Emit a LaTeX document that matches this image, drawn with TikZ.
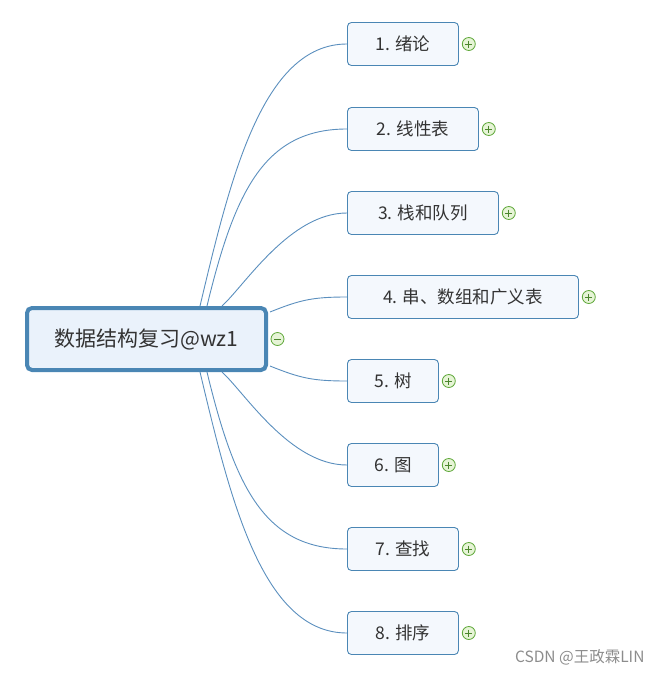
\documentclass[tikz,border=0pt]{standalone}
\usepackage{fontspec}
\newfontfamily\cjk{Noto Sans CJK SC}
\usetikzlibrary{calc}
\definecolor{linec}{HTML}{5B8FBE}
\definecolor{mainb}{HTML}{4A86B4}
\definecolor{mainf}{HTML}{EAF2FB}
\definecolor{subf}{HTML}{F4F8FD}
\definecolor{grn}{HTML}{5FA83A}
\definecolor{grnf}{HTML}{E6F4D6}
\tikzset{
  mainbox/.style={draw=mainb, line width=4pt, fill=mainf, rounded corners=5pt,
    minimum width=239pt, minimum height=62pt, inner sep=0pt,
    font=\cjk\fontsize{21}{24}\selectfont, text=black!80},
  subbox/.style={draw=mainb, line width=0.9pt, fill=subf, rounded corners=4pt,
    minimum height=43pt, inner sep=0pt, anchor=west,
    font=\cjk\fontsize{17.5}{20}\selectfont, text=black!80},
  conn/.style={draw=linec, line width=0.9pt},
  iconc/.style={circle, draw=grn, fill=grnf, line width=0.8pt, minimum size=13pt, inner sep=0pt},
  sign/.style={draw=grn!80!black, line width=1pt}
}
\begin{document}
\begin{tikzpicture}[x=1pt,y=-1pt]
\useasboundingbox (0,0) rectangle (661,675);
% nodes
\node[mainbox] (c) at (146.5,339) {数据结构复习@wz1};
\node[subbox, minimum width=111pt] (n1) at (347,44) {1. 绪论};
\node[subbox, minimum width=131pt] (n2) at (347,129) {2. 线性表};
\node[subbox, minimum width=151pt] (n3) at (347,213) {3. 栈和队列};
\node[subbox, minimum width=231pt] (n4) at (347,297) {4. 串、数组和广义表};
\node[subbox, minimum width=91pt] (n5) at (347,381) {5. 树};
\node[subbox, minimum width=91pt] (n6) at (347,465) {6. 图};
\node[subbox, minimum width=111pt] (n7) at (347,549) {7. 查找};
\node[subbox, minimum width=111pt] (n8) at (347,633) {8. 排序};
% start points
\coordinate (s1) at (200,306);
\coordinate (s2) at (207,306);
\coordinate (s3) at (222,306);
\coordinate (s4) at (270,312);
\coordinate (s5) at (270,366);
\coordinate (s6) at (222,372);
\coordinate (s7) at (207,372);
\coordinate (s8) at (200,372);
% connectors
\draw[conn] (s1) .. controls (230,180) and (262,44) .. (n1.west);
\draw[conn] (s2) .. controls (235,190) and (265,129) .. (n2.west);
\draw[conn] (s3) .. controls (245,285) and (290,213) .. (n3.west);
\draw[conn] (s4) .. controls (300,300) and (312,297) .. (n4.west);
\draw[conn] (s5) .. controls (300,378) and (312,381) .. (n5.west);
\draw[conn] (s6) .. controls (245,393) and (290,465) .. (n6.west);
\draw[conn] (s7) .. controls (235,488) and (265,549) .. (n7.west);
\draw[conn] (s8) .. controls (230,498) and (262,633) .. (n8.west);
% icons
\node[iconc] (m) at (277.5,339) {};
\draw[sign] ($(m.center)+(-3.5,0)$) -- ($(m.center)+(3.5,0)$);
\foreach \i in {1,...,8}{
  \node[iconc, anchor=west] (p\i) at ($(n\i.east)+(3,0)$) {};
  \draw[sign] ($(p\i.center)+(-3.5,0)$) -- ($(p\i.center)+(3.5,0)$);
  \draw[sign] ($(p\i.center)+(0,-3.5)$) -- ($(p\i.center)+(0,3.5)$);
}
% watermark
\node[anchor=east, font=\cjk\fontsize{15.5}{18}\selectfont, text=black!45] (w) at (648,657) {CSDN @王政霖LIN};
\end{tikzpicture}
\end{document}
